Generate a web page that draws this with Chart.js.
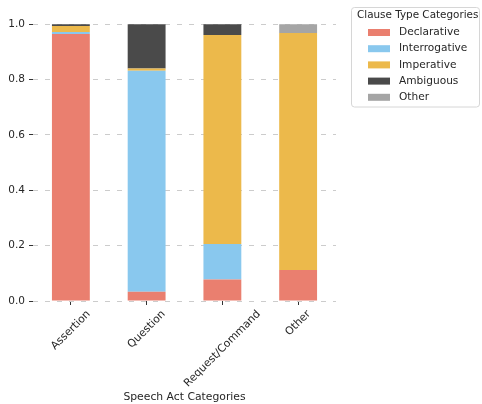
<!DOCTYPE html>
<html>
<head>
<meta charset="utf-8">
<script src="https://cdn.jsdelivr.net/npm/chart.js@4.4.1/dist/chart.umd.min.js"></script>
<style>
  html, body { margin: 0; padding: 0; background: #fff; }
  #wrap { width: 482px; height: 404px; }
</style>
</head>
<body>
<div id="wrap"><canvas id="myChart" width="482" height="404"></canvas></div>
<script>
const categories = ['Assertion', 'Question', 'Request/Command', 'Other'];
const declarative   = [0.964, 0.033, 0.078, 0.112];
const interrogative = [0.008, 0.799, 0.128, 0.000];
const imperative    = [0.021, 0.008, 0.755, 0.856];
const ambiguous     = [0.007, 0.160, 0.039, 0.000];
const otherType     = [0.000, 0.000, 0.000, 0.032];
const yTicks = [0, 0.2, 0.4, 0.6, 0.8, 1.0];

const FONT = "'DejaVu Sans', sans-serif";
const TEXT = '#262626';

// pandas-style rotated labels, centred under each bar
const xLabels = {
  id: 'xLabels',
  afterDraw(chart) {
    const ctx = chart.ctx;
    const x = chart.scales.x;
    const top = x.top + 4 + 3.5;
    ctx.save();
    ctx.font = '10.8px ' + FONT;
    ctx.fillStyle = TEXT;
    ctx.textAlign = 'center';
    ctx.textBaseline = 'middle';
    categories.forEach((lab, i) => {
      const w = ctx.measureText(lab).width;
      const s = (w + 11) * Math.SQRT1_2;
      ctx.save();
      ctx.translate(x.getPixelForValue(i), top + s / 2);
      ctx.rotate(-Math.PI / 4);
      ctx.fillText(lab, 0, 0);
      ctx.restore();
    });
    ctx.restore();
  }
};

// legend box outside the axes, upper right
const boxLegend = {
  id: 'boxLegend',
  afterDraw(chart) {
    const ctx = chart.ctx;
    const left = 351.5, top = 7.5, w = 128, h = 99.5;
    ctx.save();
    ctx.beginPath();
    ctx.roundRect(left, top, w, h, 3);
    ctx.fillStyle = 'rgba(255,255,255,0.8)';
    ctx.fill();
    ctx.strokeStyle = '#d6d6d6';
    ctx.lineWidth = 1;
    ctx.stroke();
    ctx.font = '10.4px ' + FONT;
    ctx.fillStyle = TEXT;
    ctx.textBaseline = 'middle';
    ctx.fillText('Clause Type Categories', 357, 15.5);
    ctx.font = '10.6px ' + FONT;
    chart.data.datasets.forEach((ds, i) => {
      const cy = 32.5 + i * 16.2;
      ctx.fillStyle = ds.backgroundColor;
      ctx.fillRect(368, cy - 3.5, 22, 7);
      ctx.fillStyle = TEXT;
      ctx.fillText(ds.label, 399, cy);
    });
    ctx.restore();
  }
};

const ctx = document.getElementById('myChart').getContext('2d');
new Chart(ctx, {
  type: 'bar',
  data: {
    labels: categories,
    datasets: [
      { label: 'Declarative', data: declarative, backgroundColor: '#ea7f6f' },
      { label: 'Interrogative', data: interrogative, backgroundColor: '#89c8ee' },
      { label: 'Imperative', data: imperative, backgroundColor: '#ecb94b' },
      { label: 'Ambiguous', data: ambiguous, backgroundColor: '#4a4a4a' },
      { label: 'Other', data: otherType, backgroundColor: '#a5a5a5' }
    ]
  },
  options: {
    responsive: false,
    animation: false,
    layout: { padding: { top: 7, right: 146, left: 0, bottom: 0 } },
    datasets: { bar: { categoryPercentage: 1.0, barPercentage: 0.5, borderWidth: 0 } },
    plugins: {
      legend: { display: false },
      tooltip: { enabled: false }
    },
    scales: {
      x: {
        stacked: true,
        afterFit(scale) { scale.height = 103; },
        grid: { drawOnChartArea: false, offset: false, drawTicks: true, tickLength: 4, tickColor: '#333', tickWidth: 1 },
        border: { display: false },
        ticks: { display: false },
        title: {
          display: true,
          text: 'Speech Act Categories',
          color: TEXT,
          font: { family: FONT, size: 10.8 },
          padding: { top: 0, bottom: 0 }
        }
      },
      y: {
        stacked: true,
        min: 0,
        max: 1.05,
        afterFit(scale) { scale.width = 33; },
        afterBuildTicks(scale) { scale.ticks = yTicks.map(v => ({ value: v })); },
        ticks: {
          includeBounds: false,
          padding: 4,
          color: TEXT,
          font: { family: FONT, size: 10.5 },
          callback: v => v.toFixed(1)
        },
        grid: { color: '#cccccc', lineWidth: 1, tickLength: 4, tickColor: '#333', tickBorderDash: [] },
        border: { display: false, dash: [5, 7] }
      }
    }
  },
  plugins: [xLabels, boxLegend]
});
</script>
</body>
</html>
